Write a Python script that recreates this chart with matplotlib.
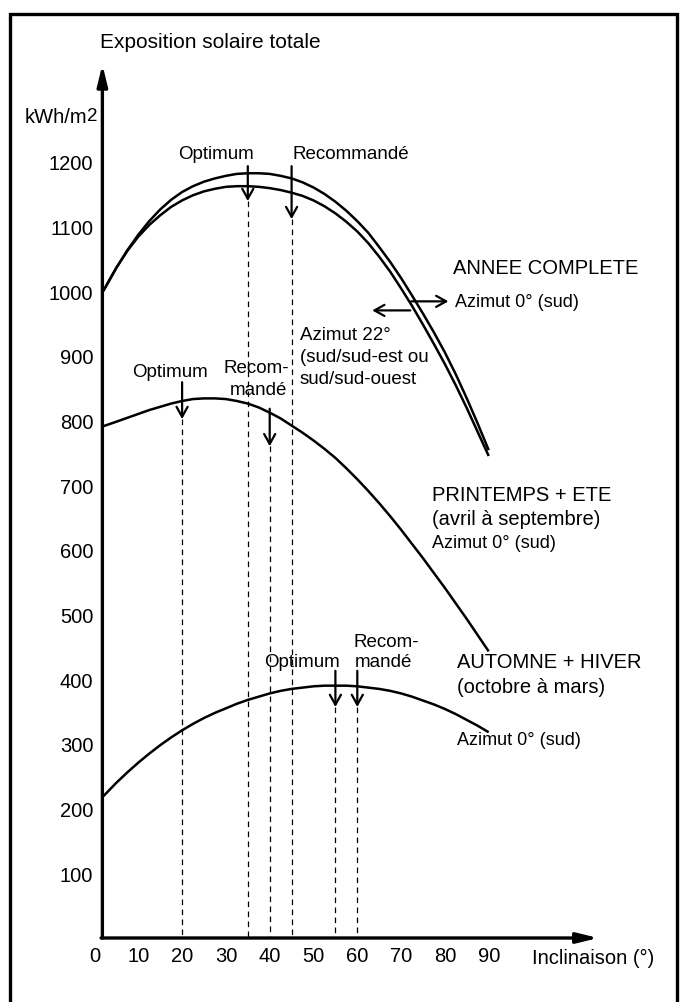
import matplotlib
matplotlib.use("Agg")
import matplotlib.pyplot as plt

plt.rcParams['font.family'] = ['Liberation Sans', 'DejaVu Sans']

# ---------------- data ----------------
inclinaison = [2, 5, 7.5, 10, 12.5, 15, 17.5, 20, 22.5, 25, 27.5, 30, 32.5, 35, 37.5,
               40, 42.5, 45, 47.5, 50, 52.5, 55, 57.5, 60, 62.5, 65, 67.5, 70, 72.5,
               75, 77.5, 80, 82.5, 85, 87.5, 90]
annee_azimut0 = [1000, 1036, 1063, 1087, 1108, 1126, 1141, 1153, 1162, 1169, 1174, 1178,
                 1181, 1182, 1182, 1181, 1178, 1174, 1168, 1160, 1150, 1138, 1124, 1108,
                 1090, 1068, 1045, 1020, 993, 965, 936, 905, 871, 834, 795, 754]
annee_azimut22 = [1000, 1036, 1062, 1084, 1102, 1117, 1130, 1140, 1148, 1154, 1158, 1161,
                  1162, 1162, 1161, 1159, 1156, 1152, 1147, 1140, 1131, 1120, 1107, 1092,
                  1074, 1053, 1030, 1004, 977, 948, 918, 887, 854, 819, 782, 745]
printemps_ete = [791, 798, 804, 810, 816, 821, 826, 830, 833, 834, 834, 833,
                 830, 826, 820, 812, 803, 792, 781, 769, 756, 742, 726, 709,
                 691, 672, 652, 631, 609, 587, 564, 541, 517, 493, 468, 443]
automne_hiver = [219, 240, 256, 271, 285, 298, 310, 321, 331, 340, 348, 355,
                 362, 368, 373, 378, 382, 385, 387, 389, 390, 390, 390, 389,
                 387, 385, 382, 378, 373, 367, 361, 354, 346, 337, 328, 318]

x_ticks = [0, 10, 20, 30, 40, 50, 60, 70, 80, 90]
y_ticks = [100, 200, 300, 400, 500, 600, 700, 800, 900, 1000, 1100, 1200]

annee_optimum, annee_recommande = 35, 45
printemps_optimum, printemps_recommande = 20, 40
hiver_optimum, hiver_recommande = 55, 60

# ---------------- figure ----------------
W, H = 681, 1003
fig = plt.figure(figsize=(W / 100, H / 100), dpi=100)
ax = fig.add_axes([0, 0, 1, 1])
X0, XS = 94.5, 4.38
Y0, YS = 939.0, 0.647
ax.set_xlim(-X0 / XS, (W - X0) / XS)
ax.set_ylim((Y0 - H) / YS, Y0 / YS)
ax.patch.set_visible(False)

Y_AXIS = 1.8
ax.spines['bottom'].set_position(('data', 0))
ax.spines['left'].set_position(('data', Y_AXIS))
for s in ax.spines.values():
    s.set_visible(False)

ax.set_xticks(x_ticks)
ax.set_xticklabels([str(v) for v in x_ticks])
ax.set_yticks(y_ticks)
ax.set_yticklabels([str(v) for v in y_ticks])
ax.tick_params(axis='x', length=0, labelsize=14.5, pad=5.5)
ax.tick_params(axis='y', length=0, labelsize=14.5, pad=6.5)

# axes with arrows
ax.annotate('', xy=(Y_AXIS, 1350), xytext=(Y_AXIS, 0),
            arrowprops=dict(arrowstyle='-|>,head_length=0.9,head_width=0.22', lw=2.4,
                            color='black', shrinkA=0, shrinkB=0, mutation_scale=14))
ax.annotate('', xy=(115, 0), xytext=(Y_AXIS - 0.3, 0),
            arrowprops=dict(arrowstyle='-|>,head_length=0.9,head_width=0.22', lw=2.4,
                            color='black', shrinkA=0, shrinkB=0, mutation_scale=14))

# frame
ax.plot([10 / W, 10 / W, 677 / W, 677 / W], [0, 1 - 15 / H, 1 - 15 / H, 0],
        transform=ax.transAxes, color='black', lw=2.4, clip_on=False,
        solid_joinstyle='miter')

# curves
for serie in (annee_azimut0, annee_azimut22, printemps_ete, automne_hiver):
    ax.plot(inclinaison, serie, color='black', lw=1.8, solid_capstyle='butt',
            solid_joinstyle='round')

# dashed verticals + arrows
ARROW = '->,head_length=0.45,head_width=0.25'

def marker(x, y_top, y_tip):
    ax.plot([x, x], [y_tip, 0], color='black', lw=0.9, ls=(0, (4.5, 3.5)))
    ax.annotate('', xy=(x, y_tip), xytext=(x, y_top),
                arrowprops=dict(arrowstyle=ARROW, lw=1.6, color='black',
                                shrinkA=0, shrinkB=0, mutation_scale=16))

marker(annee_optimum, 1193, 1139)
marker(annee_recommande, 1193, 1111)
marker(printemps_optimum, 859, 802)
marker(printemps_recommande, 818, 760)
marker(hiver_optimum, 413, 357)
marker(hiver_recommande, 413, 357)

FS_A = 13.5
FS_B = 14.5
FS_C = 13

def txt(x, y, s, fs=FS_A, ha='center'):
    ax.text(x, y, s, fontsize=fs, ha=ha, va='center')

ax.text(1.26, 1385, 'Exposition solaire totale', fontsize=15, ha='left', va='center')
ax.text(-1.7, 1270, 'kWh/m', fontsize=14.5, ha='right', va='center')
ax.text(-1.8, 1271, '2', fontsize=13.5, ha='left', va='center')
ax.text(99.9, -29.5, 'Inclinaison (°)', fontsize=14.5, ha='left', va='center')

txt(27.7, 1212, 'Optimum')
txt(45.1, 1212, 'Recommandé', ha='left')
txt(17.2, 876, 'Optimum')
txt(36.9, 882, 'Recom-')
txt(37.4, 848, 'mandé')
txt(47.3, 428, 'Optimum')
txt(66.7, 459, 'Recom-')
txt(66.0, 427, 'mandé')

txt(46.9, 933, 'Azimut 22°', ha='left')
txt(46.9, 898, '(sud/sud-est ou', ha='left')
txt(46.9, 864, 'sud/sud-ouest', ha='left')

txt(81.8, 1036, 'ANNEE COMPLETE', fs=FS_B, ha='left')
txt(82.3, 983, 'Azimut 0° (sud)', fs=FS_C, ha='left')
ax.annotate('', xy=(80.8, 984), xytext=(72.3, 984),
            arrowprops=dict(arrowstyle=ARROW, lw=1.6, color='black',
                            shrinkA=0, shrinkB=0, mutation_scale=16))
ax.annotate('', xy=(63.4, 970), xytext=(72.1, 970),
            arrowprops=dict(arrowstyle=ARROW, lw=1.6, color='black',
                            shrinkA=0, shrinkB=0, mutation_scale=16))

txt(77.05, 686, 'PRINTEMPS + ETE', fs=FS_B, ha='left')
txt(77.05, 648, '(avril à septembre)', fs=FS_B, ha='left')
txt(77.05, 611, 'Azimut 0° (sud)', fs=FS_C, ha='left')

txt(82.8, 428, 'AUTOMNE + HIVER', fs=FS_B, ha='left')
txt(82.8, 388, '(octobre à mars)', fs=FS_B, ha='left')
txt(82.8, 307, 'Azimut 0° (sud)', fs=FS_C, ha='left')

fig.savefig('out.png', dpi=100, facecolor='white')
